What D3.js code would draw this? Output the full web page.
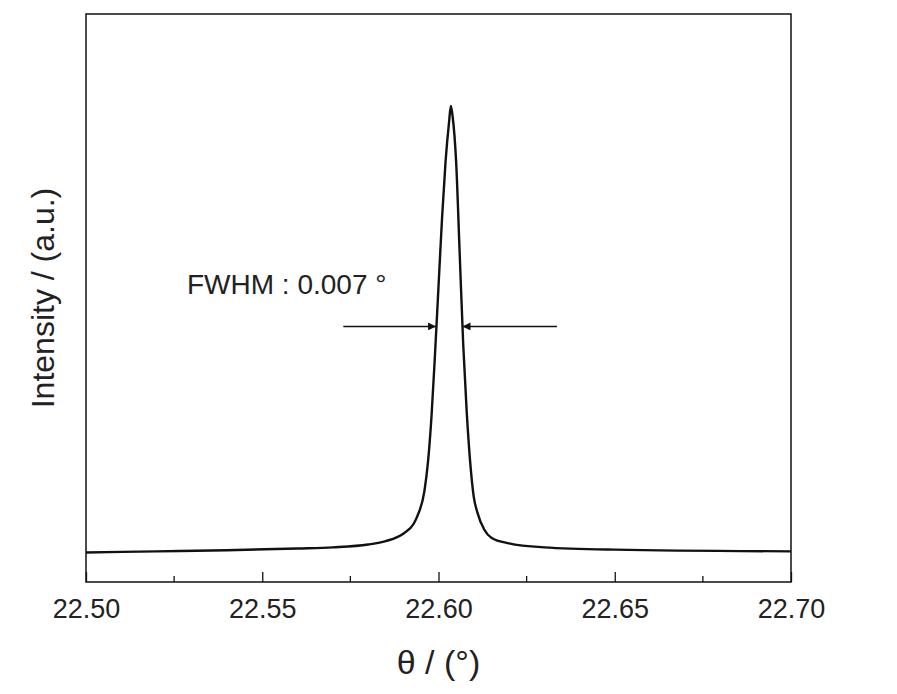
<!DOCTYPE html>
<html>
<head>
<meta charset="utf-8">
<script src="https://cdn.jsdelivr.net/npm/d3@7"></script>
<style>
  body { margin: 0; background: #fff; }
  text { font-family: "Liberation Sans", Arial, sans-serif; fill: #222; }
</style>
</head>
<body>
<script>
// data (intensity in arbitrary units, 0-100)
var theta = [22.50, 22.52, 22.54, 22.56, 22.57, 22.58, 22.585, 22.59, 22.593, 22.594, 22.596, 22.597, 22.598, 22.599,
             22.600, 22.601, 22.602, 22.603, 22.6035, 22.604, 22.605, 22.606, 22.607, 22.608, 22.609, 22.610,
             22.611, 22.613, 22.615, 22.62, 22.63, 22.65, 22.70]
var intensity = [5.2, 5.4, 5.6, 5.9, 6.1, 6.6, 7.2, 8.5, 10.3, 11.6, 16, 21, 29, 40,
                 52, 64, 74, 81, 83.8, 82, 74, 58, 42, 30, 21, 15,
                 12.3, 9.2, 7.8, 6.8, 6.1, 5.7, 5.4]
var xTicks = [22.50, 22.55, 22.60, 22.65, 22.70]
var xMinor = [22.525, 22.575, 22.625, 22.675]
var fwhmLabel = "FWHM : 0.007 °"
var fwhmLeft = [22.573, 22.5993]   // arrow tail, head
var fwhmRight = [22.6336, 22.6068]
var fwhmLevel = 45

var width = 897, height = 694
var m = {left: 86, right: 791, top: 14, bottom: 582}

var svg = d3.select('body').append('svg')
            .attr('width', width)
            .attr('height', height)

var x = d3.scaleLinear().domain([22.50, 22.70]).range([m.left, m.right])
var y = d3.scaleLinear().domain([0, 100]).range([m.bottom, m.top])

svg.append('defs').append('marker')
   .attr('id', 'arr')
   .attr('viewBox', '0 0 10 10')
   .attr('refX', 10).attr('refY', 5)
   .attr('markerWidth', 14).attr('markerHeight', 8)
   .attr('markerUnits', 'userSpaceOnUse')
   .attr('orient', 'auto')
   .append('path').attr('d', 'M0,0 L10,5 L0,10 z').attr('fill', '#111')

// frame
svg.append('rect')
   .attr('x', m.left).attr('y', m.top)
   .attr('width', m.right - m.left).attr('height', m.bottom - m.top)
   .attr('fill', 'none').attr('stroke', '#111').attr('stroke-width', 1.5)

// ticks, pointing inward
var axis = d3.axisBottom(x).tickValues(xTicks).tickSize(-10).tickSizeOuter(0)
             .tickFormat(d3.format('.2f')).tickPadding(17)
var gx = svg.append('g').attr('transform', 'translate(0,' + m.bottom + ')').call(axis)
gx.select('.domain').remove()
gx.selectAll('line').attr('stroke', '#111').attr('stroke-width', 1.3)
gx.selectAll('text').style('font-size', '27px').style('fill', '#222')
    .style('font-family', '"Liberation Sans", Arial, sans-serif')

svg.append('g').selectAll('line').data(xMinor).enter().append('line')
   .attr('x1', d => x(d)).attr('x2', d => x(d))
   .attr('y1', m.bottom).attr('y2', m.bottom - 6)
   .attr('stroke', '#111').attr('stroke-width', 1.3)

// curve
var pts = theta.map((t, i) => [t, intensity[i]])
svg.append('path')
   .datum(pts)
   .attr('fill', 'none').attr('stroke', '#111').attr('stroke-width', 2.4)
   .attr('d', d3.line().x(d => x(d[0])).y(d => y(d[1])).curve(d3.curveMonotoneX))

// FWHM arrows
;[fwhmLeft, fwhmRight].forEach(function(a) {
  svg.append('line')
     .attr('x1', x(a[0])).attr('x2', x(a[1]))
     .attr('y1', y(fwhmLevel)).attr('y2', y(fwhmLevel))
     .attr('stroke', '#111').attr('stroke-width', 1.5)
     .attr('marker-end', 'url(#arr)')
})
svg.append('text').attr('x', 187).attr('y', 294)
   .style('font-size', '28px').text(fwhmLabel)

// axis titles
svg.append('text').attr('x', (m.left + m.right) / 2).attr('y', 674)
   .attr('text-anchor', 'middle').style('font-size', '34px').text('θ / (°)')
svg.append('text')
   .attr('transform', 'translate(54,' + ((m.top + m.bottom) / 2) + ') rotate(-90)')
   .attr('text-anchor', 'middle').style('font-size', '32px').text('Intensity / (a.u.)')
</script>
</body>
</html>
